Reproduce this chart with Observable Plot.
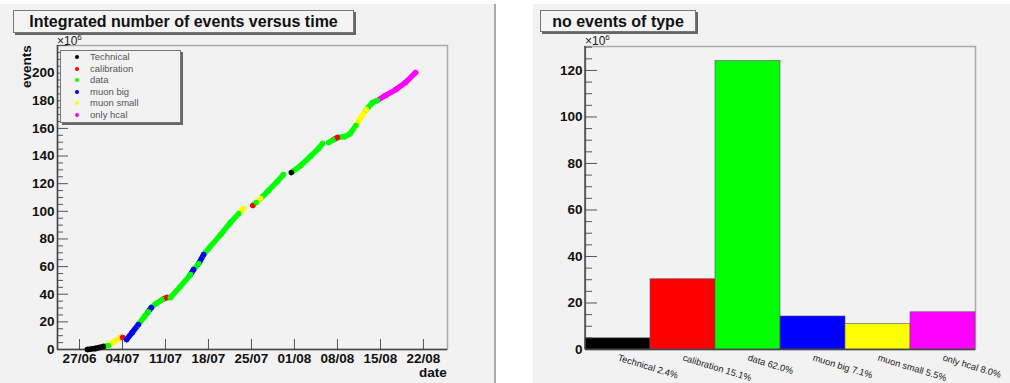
<!DOCTYPE html>
<html><head><meta charset="utf-8">
<script src="https://cdn.jsdelivr.net/npm/d3@7"></script>
<script src="https://cdn.jsdelivr.net/npm/@observablehq/plot@0.6"></script>
<style>
body{margin:0;width:1010px;height:383px;position:relative;background:#fff;font-family:"Liberation Sans",Arial,sans-serif;overflow:hidden}
.canvas{position:absolute;background:#f2f2f2}
.box{position:absolute;box-sizing:border-box;border:1px solid #777;box-shadow:2px 2px 0 #666;background:#f4f4f4}
.title{font-weight:bold;font-size:16px;text-align:center;line-height:21px;color:#111}
.abs{position:absolute}
.exp{position:absolute;font-size:12px;color:#222}
.exp sup{font-size:8px}
.lab{position:absolute;font-weight:bold;font-size:13.5px;color:#111}
.leg{position:absolute;font-size:9.5px;color:#555;white-space:nowrap}
.dot{position:absolute;width:4px;height:4px;border-radius:50%}
svg{overflow:visible}
</style></head><body>
<div class="canvas" style="left:0;top:4px;width:494px;height:379px;border-right:2px solid #aaa"></div>
<div class="canvas" style="left:533px;top:4px;width:477px;height:379px"></div>
<div id="left" class="abs" style="left:0;top:0"></div>
<div id="right" class="abs" style="left:533px;top:0"></div>
<div class="box title" style="left:13px;top:10px;width:341px;height:23px">Integrated number of events versus time</div>
<div class="box title" style="left:540px;top:10px;width:156px;height:22px">no events of type</div>
<div class="exp" style="left:57px;top:33px">×10<sup>6</sup></div>
<div class="exp" style="left:585px;top:33px">×10<sup>6</sup></div>
<div class="lab" style="left:419px;top:365px">date</div>
<div class="lab" style="left:35px;top:46px;transform-origin:0 0;transform:rotate(-90deg) translate(-42px,-16px)">events</div>
<div id="legend" class="box" style="left:60px;top:50px;width:121px;height:73px;background:#f2f2f2"></div>
<script>
// ---- data ----
const seriesTypes = ["Technical","calibration","data","muon big","muon small","only hcal"];
const typeColors = ["#000000","#ff0000","#00ff00","#0000ff","#ffff00","#ff00ff"];

// integrated number of events (x10^6) versus time
const runDates = [
  "2008-06-28T07:00Z","2008-06-29T14:00Z","2008-06-30T22:00Z","2008-07-01T17:00Z","2008-07-02T10:00Z","2008-07-03T17:00Z","2008-07-04T00:00Z",
  "2008-07-04T16:00Z","2008-07-05T14:00Z","2008-07-06T14:00Z","2008-07-07T14:00Z","2008-07-08T05:00Z","2008-07-08T17:00Z","2008-07-09T12:00Z",
  "2008-07-10T12:00Z","2008-07-11T05:00Z","2008-07-11T19:00Z","2008-07-13T10:00Z","2008-07-15T02:00Z","2008-07-15T14:00Z","2008-07-16T10:00Z",
  "2008-07-17T05:00Z","2008-07-18T07:00Z","2008-07-20T00:00Z","2008-07-21T14:00Z","2008-07-22T22:00Z","2008-07-23T17:00Z",
  "2008-07-25T05:00Z","2008-07-25T19:00Z","2008-07-26T12:00Z","2008-07-27T19:00Z","2008-07-29T05:00Z","2008-07-30T05:00Z",
  "2008-07-31T12:00Z","2008-08-02T00:00Z","2008-08-03T14:00Z","2008-08-04T22:00Z","2008-08-05T14:00Z",
  "2008-08-06T14:00Z","2008-08-07T10:00Z","2008-08-08T00:00Z","2008-08-09T05:00Z","2008-08-10T02:00Z","2008-08-11T00:00Z",
  "2008-08-11T19:00Z","2008-08-12T17:00Z","2008-08-13T17:00Z","2008-08-14T12:00Z","2008-08-15T19:00Z","2008-08-17T12:00Z",
  "2008-08-19T02:00Z","2008-08-20T17:00Z"
];
const runEvents = [
  0, 0.7, 2.2, 2.9, 5.1, 8.7, 8.7,
  7.2, 12.3, 18.1, 23.9, 27.5, 30.4, 33.3,
  36.2, 37.6, 37.6, 45.6, 54.3, 57.9, 62.2,
  68.7, 74.5, 83.2, 91.9, 98.4, 102.0,
  104.2, 106.4, 109.3, 115.1, 121.6, 126.6,
  128.1, 133.1, 139.7, 145.4, 149.1,
  149.8, 152.0, 153.4, 154.1, 156.3, 162.1,
  167.9, 173.7, 178.7, 180.2, 183.8, 188.1,
  193.2, 200.4
];
const runTypes = [
  "Technical","Technical","Technical","data","muon small","muon small","calibration",
  "muon big","muon big","muon big","data","data","muon big","data",
  "data","calibration","data","data","data","muon big","data",
  "muon big","data","data","data","data","muon small",
  "calibration","data","muon small","data","data","data",
  "Technical","data","data","data","data",
  "data","data","calibration","data","data","data",
  "muon small","muon small","data","data","only hcal","only hcal",
  "only hcal","only hcal"
];
const runSegments = [
  1,1,1,1,1,1,1,
  2,2,2,2,2,2,2,
  2,2,2,2,2,2,2,
  2,2,2,2,2,2,
  3,3,3,3,3,3,
  4,4,4,4,4,
  5,5,5,5,5,5,
  5,5,5,5,5,5,
  5,5
];

const dateTicks = ["2008-06-27","2008-07-04","2008-07-11","2008-07-18","2008-07-25","2008-08-01","2008-08-08","2008-08-15","2008-08-22"];
const leftYTicks = [0,20,40,60,80,100,120,140,160,180,200];

// no events of type (x10^6)
const barCounts = [4.8, 30.2, 124.0, 14.2, 11.0, 16.0];
const barLabels = ["Technical 2.4%","calibration 15.1%","data 62.0%","muon big 7.1%","muon small 5.5%","only hcal 8.0%"];
const rightYTicks = [0,20,40,60,80,100,120];

// ---- left chart ----
const font = "Liberation Sans, Arial, sans-serif";
const pts = runDates.map((d,i)=>({date:new Date(d), v:runEvents[i], type:runTypes[i], seg:runSegments[i]}));
const links = pts.slice(1).map((p,i)=>({a:pts[i], b:p})).filter(l=>l.a.seg===l.b.seg);
const xDomain = [new Date("2008-06-23T10:00Z"), new Date("2008-08-25T22:00Z")];
const lW = 495, lML = 57, lMR = 48, lMT = 45, lMB = 34;
const lInnerW = lW - lML - lMR, lInnerH = 383 - lMT - lMB;
const leftMinor = d3.range(0, 221, 5).filter(v => v % 20 !== 0);
const leftMajor = d3.range(0, 221, 20);

const left = Plot.plot({
  width: lW, height: 383, marginLeft: lML, marginRight: lMR, marginTop: lMT, marginBottom: lMB,
  style: {background: "transparent", fontFamily: font},
  x: {type: "utc", domain: xDomain},
  y: {domain: [0, 220]},
  color: {domain: seriesTypes, range: typeColors},
  marks: [
    Plot.frame({stroke: "#aaa", strokeWidth: 1.5}),
    Plot.tickY(leftMinor, {y: d => d, insetRight: lInnerW - 6, stroke: "#555"}),
    Plot.tickY(leftMajor, {y: d => d, insetRight: lInnerW - 11, stroke: "#555"}),
    Plot.tickX(dateTicks, {x: d => new Date(d), insetTop: lInnerH - 10, stroke: "#555"}),
    Plot.ruleX([xDomain[0]], {stroke: "#444", strokeWidth: 1.5}),
    Plot.ruleY([0], {stroke: "#444", strokeWidth: 1.5}),
    Plot.axisY({ticks: leftYTicks, tickSize: 0, tickPadding: 3, fontSize: 13.5, fontWeight: "bold", fill: "#111", label: null}),
    Plot.axisX({ticks: dateTicks.map(d => new Date(d)), tickSize: 0, tickPadding: 4, tickFormat: d3.utcFormat("%d/%m"), fontSize: 13.5, fontWeight: "bold", fill: "#111", label: null}),
    Plot.link(links, {x1: d => d.a.date, y1: d => d.a.v, x2: d => d.b.date, y2: d => d.b.v, stroke: d => d.b.type, strokeWidth: 5.5, strokeLinecap: "round"}),
    Plot.dot(pts, {x: "date", y: "v", fill: "type", r: 2.75})
  ]
});
document.getElementById("left").append(left);

// ---- right chart ----
const rW = 477, rML = 52, rMR = 35, rMT = 46, rMB = 34;
const rInnerW = rW - rML - rMR;
const rightMinor = d3.range(0, 131, 5).filter(v => v % 20 !== 0);
const rightMajor = d3.range(0, 121, 20);
const right = Plot.plot({
  width: rW, height: 383, marginLeft: rML, marginRight: rMR, marginTop: rMT, marginBottom: rMB,
  style: {background: "transparent", fontFamily: font},
  x: {domain: seriesTypes, padding: 0, axis: null},
  y: {domain: [0, 130.3]},
  color: {domain: seriesTypes, range: typeColors},
  marks: [
    Plot.frame({stroke: "#aaa", strokeWidth: 1.5}),
    Plot.barY(seriesTypes, {x: d => d, y: (d, i) => barCounts[i], fill: d => d, stroke: "#556", strokeWidth: 0.6}),
    Plot.tickY(rightMinor, {y: d => d, insetRight: rInnerW - 7, stroke: "#555"}),
    Plot.tickY(rightMajor, {y: d => d, insetRight: rInnerW - 12, stroke: "#555"}),
    Plot.ruleY([0], {stroke: "#444", strokeWidth: 1.5}),
    Plot.axisY({ticks: rightYTicks, tickSize: 0, tickPadding: 3, fontSize: 13.5, fontWeight: "bold", fill: "#111", label: null}),
    Plot.text(seriesTypes, {x: d => d, y: 0, text: (d, i) => barLabels[i], rotate: 17, textAnchor: "start", dy: 8, fontSize: 9.3, fill: "#222"})
  ]
});
document.getElementById("right").append(right);
d3.select(right).append("line").attr("x1", rML).attr("x2", rML).attr("y1", rMT).attr("y2", 383 - rMB).attr("stroke", "#444").attr("stroke-width", 1.5);

// ---- legend ----
const legend = document.getElementById("legend");
seriesTypes.forEach((t, i) => {
  const cy = 6 + i * 11.6;
  const dot = document.createElement("div");
  dot.className = "dot";
  dot.style.left = "14px"; dot.style.top = (cy - 2) + "px"; dot.style.background = typeColors[i];
  legend.append(dot);
  const lab = document.createElement("div");
  lab.className = "leg";
  lab.style.left = "29px"; lab.style.top = (cy - 6) + "px";
  lab.textContent = t;
  legend.append(lab);
});
</script>
</body></html>
